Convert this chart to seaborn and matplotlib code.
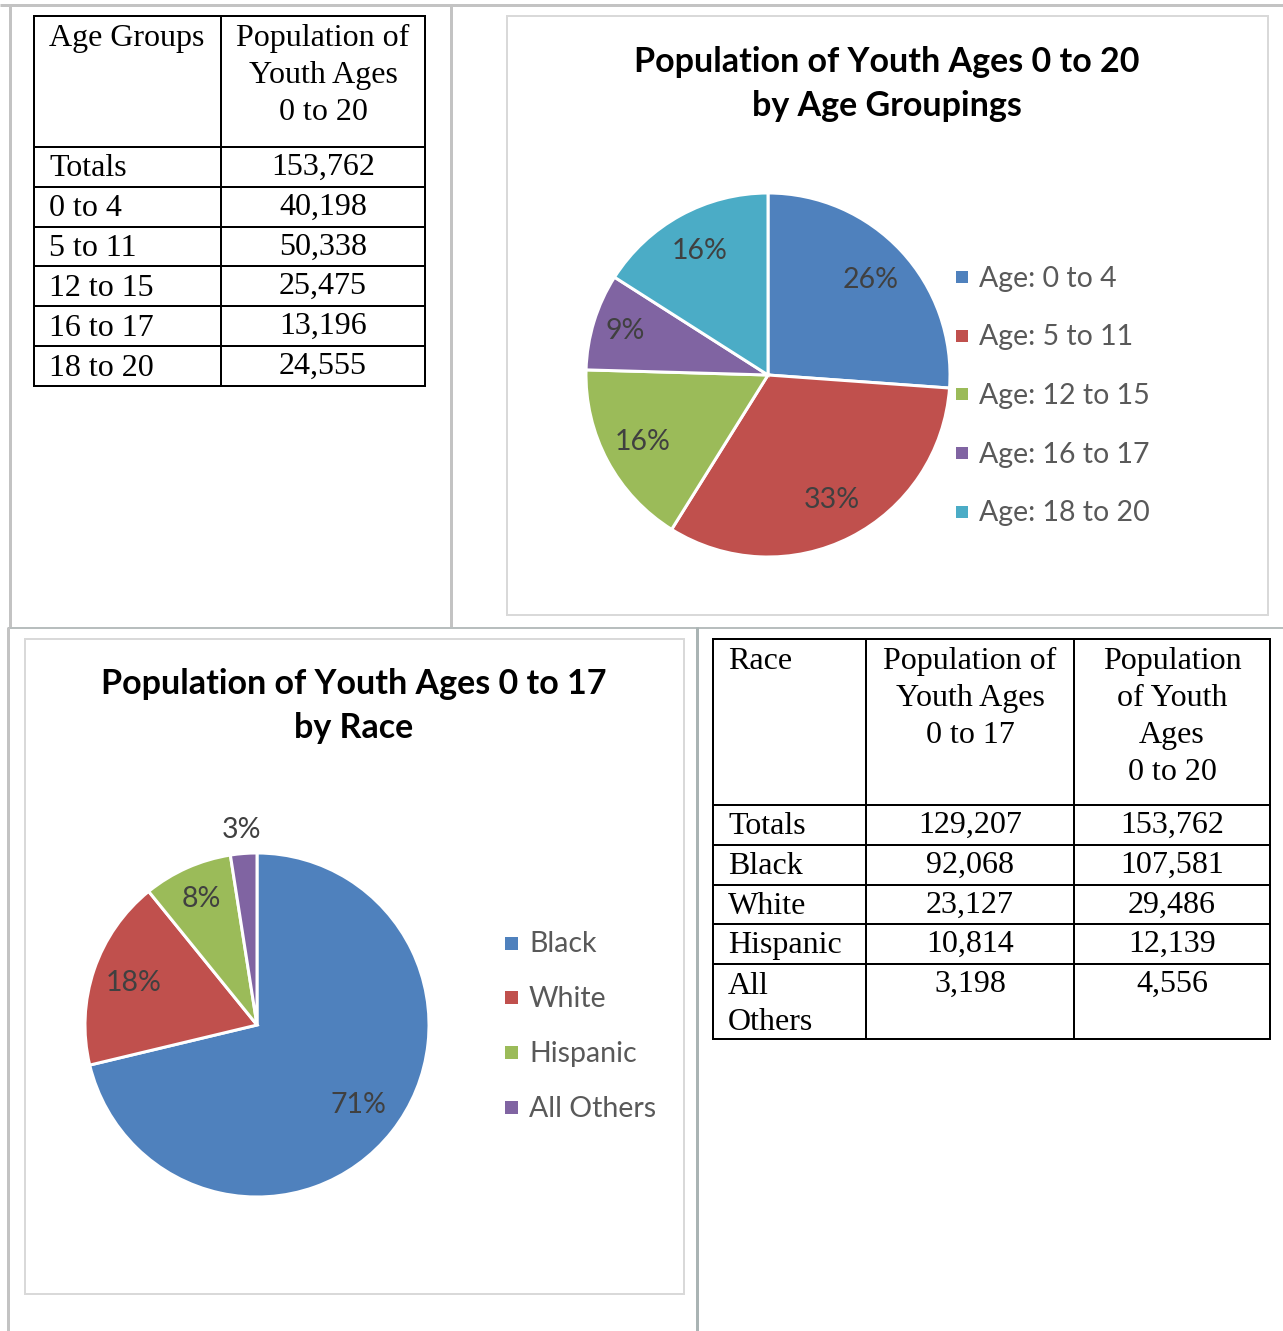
import matplotlib
matplotlib.use("Agg")
import matplotlib.pyplot as plt
from matplotlib.patches import Rectangle
from matplotlib.font_manager import FontProperties, fontManager
import seaborn as sns
import numpy as np

# ---------------- data ----------------
age_groups = ["0 to 4", "5 to 11", "12 to 15", "16 to 17", "18 to 20"]
age_pop = [40198, 50338, 25475, 13196, 24555]
age_total = 153762
age_pct_labels = ["26%", "33%", "16%", "9%", "16%"]
age_legend = ["Age: 0 to 4", "Age: 5 to 11", "Age: 12 to 15", "Age: 16 to 17", "Age: 18 to 20"]
age_table_header = ["Age Groups", "Population of\nYouth Ages\n0 to 20"]

races = ["Black", "White", "Hispanic", "All\nOthers"]
race_legend = ["Black", "White", "Hispanic", "All Others"]
race_pop_0_17 = [92068, 23127, 10814, 3198]
race_pop_0_20 = [107581, 29486, 12139, 4556]
race_totals = [129207, 153762]
race_pct_labels = ["71%", "18%", "8%", "3%"]
race_table_header = ["Race", "Population of\nYouth Ages\n0 to 17", "Population\nof Youth\nAges\n0 to 20"]

title_age = "Population of Youth Ages 0 to 20\nby Age Groupings"
title_race = "Population of Youth Ages 0 to 17\nby Race"

# ---------------- style ----------------
sns.set_theme(style="white")
palette = sns.color_palette(["#4F81BD", "#C0504D", "#9BBB59", "#8064A2", "#4BACC6"])
plt.rcParams["font.family"] = ["Lato", "DejaVu Sans"]

names = {f.name for f in fontManager.ttflist}
serif_name = "Liberation Serif" if "Liberation Serif" in names else "DejaVu Serif"

W, H = 1283, 1331
PX = 0.72  # points per pixel at dpi 100
fig = plt.figure(figsize=(W / 100, H / 100), dpi=100)
fig.patch.set_facecolor("white")
pg = fig.add_axes([0, 0, 1, 1])
pg.set_xlim(0, W)
pg.set_ylim(H, 0)
pg.axis("off")


def px_axes(x0, y0, x1, y1):
    return fig.add_axes([x0 / W, 1 - y1 / H, (x1 - x0) / W, (y1 - y0) / H])


def line(x0, y0, x1, y1, color, lw):
    pg.plot([x0, x1], [y0, y1], color=color, lw=lw * PX, solid_capstyle="butt")


# page frame lines
line(0, 4.5, W, 4.5, "#c3c3c3", 3)
line(10, 4, 10, 627, "#c3c3c3", 3)
line(451, 4, 451, 627, "#c3c3c3", 3)
line(8, 627.5, W, 627.5, "#b8bebe", 2)
line(8, 627, 8, H, "#c3c3c3", 3)
line(696.5, 627, 696.5, H, "#aab4b4", 3)

# chart boxes
for (x0, y0, x1, y1) in [(507, 16, 1268, 615), (25, 639, 684, 1294)]:
    pg.add_patch(Rectangle((x0, y0), x1 - x0, y1 - y0, fill=False, ec="#d9d9d9", lw=2 * PX))

TFS = 23
serif_fp = FontProperties(family=serif_name, size=TFS)


def fmt(v):
    return f"{v:,}"


def ttext(x, y, t, ha):
    pg.text(x, y, t, ha=ha, va="center", fontproperties=serif_fp, color="black")


def draw_table(col_x, row_y, header, rows, header_line_h=37):
    x0, x1 = col_x[0], col_x[-1]
    for y in row_y:
        line(x0 - 1, y, x1 + 1, y, "black", 2)
    for x in col_x:
        line(x, row_y[0], x, row_y[-1], "black", 2)
    for ci, h in enumerate(header):
        for li, t in enumerate(h.split("\n")):
            yy = row_y[0] + 22.5 + li * header_line_h
            if ci == 0:
                ttext(col_x[0] + 15, yy, t, "left")
            else:
                ttext((col_x[ci] + col_x[ci + 1]) / 2, yy, t, "center")
    for ri, row in enumerate(rows):
        ytop = row_y[ri + 1]
        for ci, cell in enumerate(row):
            for li, t in enumerate(cell.split("\n")):
                yy = ytop + 22 + li * 37
                if ci == 0:
                    ttext(col_x[0] + 15, yy, t, "left")
                else:
                    ttext((col_x[ci] + col_x[ci + 1]) / 2, yy - 2, t, "center")


# top-left table
age_rows = [["Totals", fmt(age_total)]] + [[g, fmt(v)] for g, v in zip(age_groups, age_pop)]
draw_table([34, 221, 425], [16, 147, 187, 227, 266, 306, 346, 386], age_table_header, age_rows)

# bottom-right table
race_rows = [["Totals", fmt(race_totals[0]), fmt(race_totals[1])]] + \
    [[r, fmt(a), fmt(b)] for r, a, b in zip(races, race_pop_0_17, race_pop_0_20)]
draw_table([713, 866, 1074, 1270], [639, 805, 845, 885, 924, 964, 1039], race_table_header, race_rows)

LFS = 20.5


def draw_pie(cx, cy, r, vals, pct_labels, dists, colors):
    pad = 1.15
    ax = px_axes(cx - r * pad, cy - r * pad, cx + r * pad, cy + r * pad)
    wedges, _ = ax.pie(vals, colors=colors, startangle=90, counterclock=False,
                       wedgeprops=dict(edgecolor="white", linewidth=3 * PX))
    ax.set_xlim(-pad, pad)
    ax.set_ylim(-pad, pad)
    ax.set_aspect("equal")
    ax.axis("off")
    for w, lab, d in zip(wedges, pct_labels, dists):
        ang = np.deg2rad((w.theta1 + w.theta2) / 2)
        ax.text(d * np.cos(ang), d * np.sin(ang), lab, ha="center", va="center",
                fontsize=LFS, color="#404040")
    return ax


def draw_legend(x, y0, dy, labels, colors, sq=12):
    for i, (lab, c) in enumerate(zip(labels, colors)):
        y = y0 + i * dy
        pg.add_patch(Rectangle((x, y - sq / 2), sq, sq, color=c, lw=0))
        pg.text(x + sq + 11, y + 1.5, lab, ha="left", va="center", fontsize=LFS, color="#595959")


# top-right pie
draw_pie(768, 375, 182, age_pop, age_pct_labels, [0.77, 0.77, 0.78, 0.82, 0.78], palette[:5])
draw_legend(956, 277, 58.7, age_legend, palette[:5])
for i, t in enumerate(title_age.split("\n")):
    pg.text(887, 62 + i * 44, t, ha="center", va="center", fontsize=24.5, fontweight="bold", color="black")

# bottom-left pie
draw_pie(257, 1025, 172, race_pop_0_17, race_pct_labels, [0.75, 0.76, 0.8, 1.14], palette[:4])
draw_legend(505, 943, 54.7, race_legend, palette[:4], sq=13)
for i, t in enumerate(title_race.split("\n")):
    pg.text(354, 684 + i * 44, t, ha="center", va="center", fontsize=24.5, fontweight="bold", color="black")

fig.savefig("out.png", dpi=100, facecolor="white")
